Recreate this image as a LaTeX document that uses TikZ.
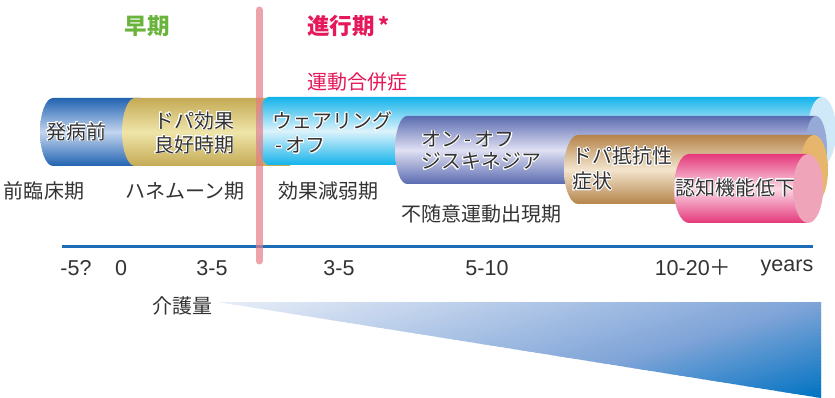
\documentclass[tikz,border=0pt]{standalone}
\usepackage{fontspec}
\setmainfont{Noto Sans CJK JP}
\newfontfamily\numfont{Liberation Sans}
\usepackage{contour}
\contourlength{0.8pt}
\newcommand\ol[1]{\contour{white}{#1}}
\definecolor{earlyg}{HTML}{6AB43E}
\definecolor{progr}{HTML}{E5195A}
\definecolor{txt}{HTML}{333333}
\definecolor{blueD}{HTML}{2163B0}
\definecolor{blueL}{HTML}{C3D5EF}
\definecolor{goldD}{HTML}{C4AA55}
\definecolor{goldL}{HTML}{EFE5A8}
\definecolor{cyanD}{HTML}{12B3EA}
\definecolor{cyanL}{HTML}{DDF3FC}
\definecolor{cyanC}{HTML}{CFE9F8}
\definecolor{purD}{HTML}{5A6BB0}
\definecolor{purL}{HTML}{E0E0F3}
\definecolor{purC}{HTML}{97AAD7}
\definecolor{tanD}{HTML}{B5844A}
\definecolor{tanL}{HTML}{F3E5CE}
\definecolor{tanC}{HTML}{E6B66C}
\definecolor{pinkD}{HTML}{E4387A}
\definecolor{pinkL}{HTML}{FBD8E5}
\definecolor{pinkC}{HTML}{F0A4BA}
\definecolor{axisb}{HTML}{1E6CB7}
\definecolor{redln}{HTML}{E57C85}
\definecolor{careL}{HTML}{E8EEF8}
\definecolor{careM}{HTML}{7FA4D8}
\definecolor{careD}{HTML}{0073C2}
% #1 left x, #2 right x, #3 top y, #4 bottom y, #5 left rx, #6 dark, #7 light
\newcommand\tube[7]{%
  \shade[top color=#6, bottom color=#6, middle color=#7]
    ({#1+#5},-#3) -- (#2,-#3) -- (#2,-#4) -- ({#1+#5},-#4)
    arc[start angle=270, end angle=90, x radius=#5, y radius={(#4-#3)/2}] -- cycle;}
% #1 x, #2 top, #3 bottom, #4 rx, #5 colour
\newcommand\tubecap[5]{%
  \fill[#5] (#1,{-(#2+#3)/2}) ellipse[x radius=#4, y radius={(#3-#2)/2}];}
\tikzset{
  jp/.style={font=\fontsize{20}{24}\selectfont, text=txt, inner sep=0pt},
  intube/.style={jp, align=left, anchor=west},
  num/.style={font=\numfont\fontsize{21.5}{24}\selectfont, text=txt, inner sep=0pt},
}
\begin{document}
\begin{tikzpicture}[x=1pt,y=1pt]
\fill[white] (0,0) rectangle (835,-398);
\useasboundingbox (0,0) rectangle (835,-398);
% headings
\node[jp, font=\fontsize{22.5}{26}\selectfont\bfseries, text=earlyg] (early) at (147,-26) {早期};
\node[jp, font=\fontsize{22.5}{26}\selectfont\bfseries, text=progr, anchor=west] (prog) at (307,-26) {進行期\,\raisebox{1pt}{\fontsize{21}{21}\selectfont *}};
\node[jp, text=progr, anchor=west] (motor) at (307,-82) {運動合併症};
% tubes
\tube{40}{140}{98}{166}{13}{blueD}{blueL}
\tube{122}{290}{98}{166}{13}{goldD}{goldL}
\tube{257}{822}{97}{165}{12}{cyanD}{cyanL}
\tubecap{822}{97}{165}{14}{cyanC}
\tube{395}{816}{116}{184}{12}{purD}{purL}
\tubecap{816}{116}{184}{11}{purC}
\tube{564}{814}{135}{204}{14}{tanD}{tanL}
\tubecap{814}{135}{204}{14}{tanC}
\tube{674}{808}{154}{223}{15}{pinkD}{pinkL}
\tubecap{808}{154}{223}{15}{pinkC}
% tube texts
\node[jp] (t1) at (76,-132) {\ol{発病前}};
\node[jp, align=center] (t2) at (194,-133) {\ol{ドパ効果}\\\ol{良好時期}};
\node[intube] (t3) at (272,-133) {\ol{ウェアリング}\\\ol{\,-\,オフ}};
\node[intube, font=\fontsize{20}{22}\selectfont] (t4) at (421,-151) {\ol{オン\,-\,オフ}\\\ol{ジスキネジア}};
\node[intube, font=\fontsize{20}{25}\selectfont] (t5) at (572,-169) {\ol{ドパ抵抗性}\\\ol{症状}};
\node[jp] (t6) at (735,-188) {\ol{認知機能低下}};
% phase labels
\node[jp] (p1) at (44,-191) {前臨床期};
\node[jp] (p2) at (185,-191) {ハネムーン期};
\node[jp] (p3) at (328,-191) {効果減弱期};
\node[jp] (p4) at (481,-214) {不随意運動出現期};
% axis
\coordinate (ax0) at (62,-246);
\coordinate (ax1) at (813,-246);
\draw[line width=3pt, axisb] (ax0) -- (ax1);
% numbers
\node[num] (n1) at (76,-268) {-5?};
\node[num] (n2) at (121,-268) {0};
\node[num] (n3) at (212,-268) {3-5};
\node[num] (n4) at (339,-268) {3-5};
\node[num] (n5) at (487,-268) {5-10};
\node[num] (n6) at (693,-268) {10-20{\rmfamily ＋}};
\node[num] (n7) at (787,-268) {years};
% care amount
\node[jp] (care) at (182,-306) {介護量};
\begin{scope}
  \clip (218,-302) -- (821,-302) -- (821,-398) -- cycle;
  \foreach \k in {0,...,79} {
    \pgfmathsetmacro\ta{\k/80*263.4}
    \pgfmathsetmacro\tb{(\k+1.4)/80*263.4}
    \pgfmathsetmacro\tm{(\k+0.5)/80}
    \pgfmathsetmacro\pa{min(100,\tm/0.65*100)}
    \pgfmathsetmacro\pb{max(0,(\tm-0.65)/0.35*100)}
    \fill[careD!\pb!careM!\pa!careL]
      ({218+0.284*\ta-700*0.959},{-302-0.959*\ta-700*0.284}) --
      ({218+0.284*\ta+700*0.959},{-302-0.959*\ta+700*0.284}) --
      ({218+0.284*\tb+700*0.959},{-302-0.959*\tb+700*0.284}) --
      ({218+0.284*\tb-700*0.959},{-302-0.959*\tb-700*0.284}) -- cycle;
  }
\end{scope}
% divider
\coordinate (vtop) at (259,-10);
\coordinate (vbot) at (259,-261);
\draw[line width=7pt, redln, opacity=0.7, line cap=round] (vtop) -- (vbot);
\end{tikzpicture}
\end{document}
